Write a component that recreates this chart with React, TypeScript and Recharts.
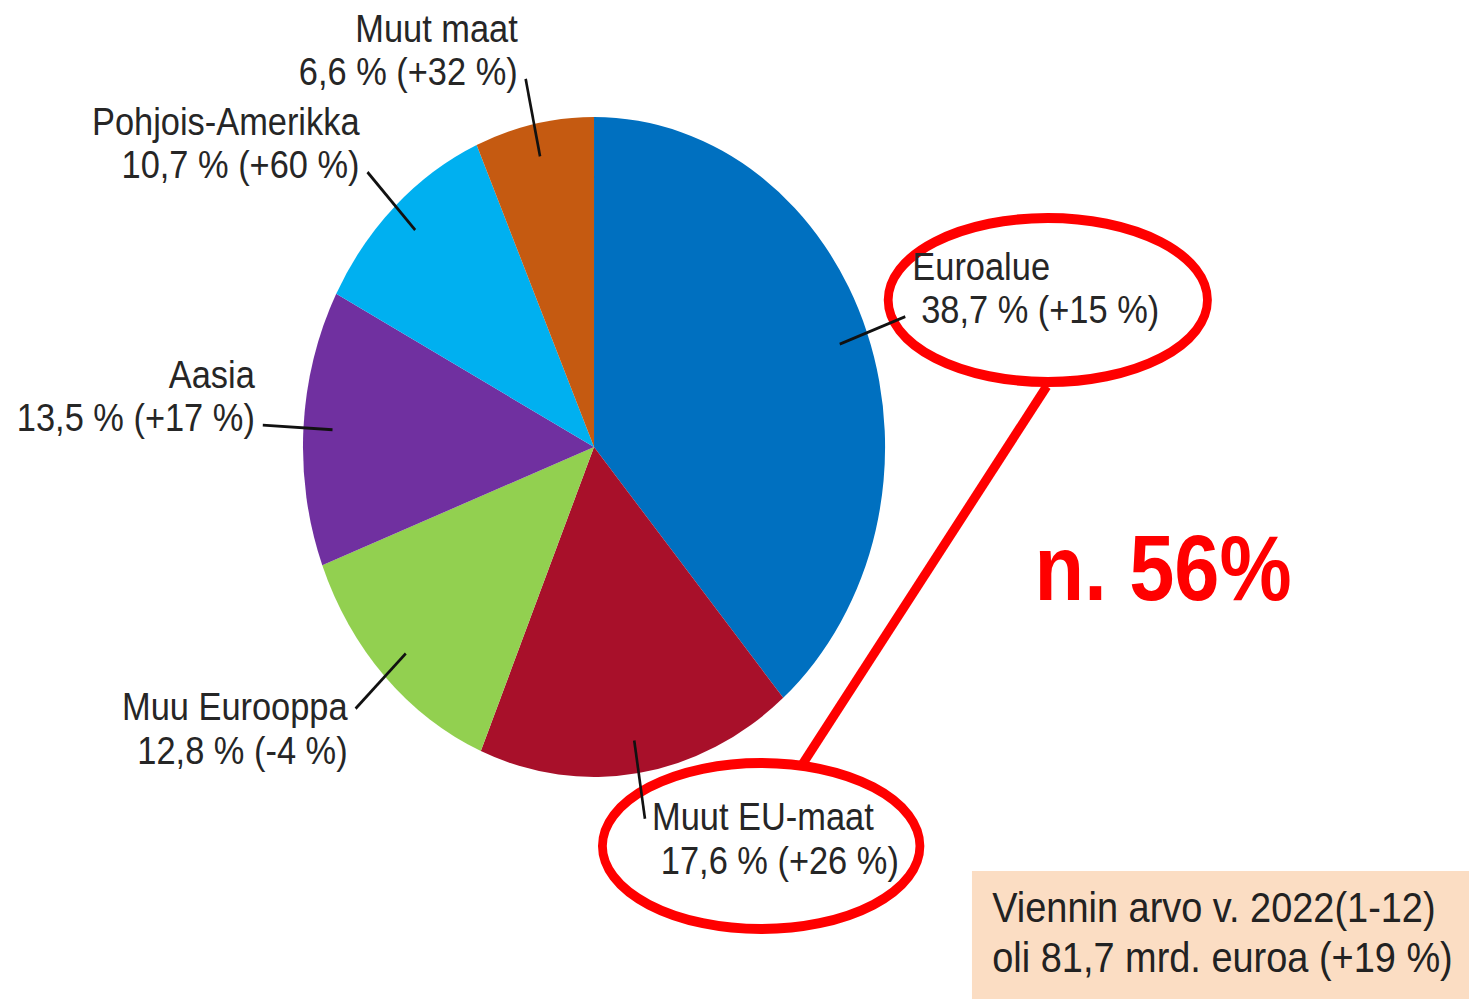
import React from 'react';
import { PieChart, Pie, Cell, Customized } from 'recharts';

const regions = ['Euroalue', 'Muut EU-maat', 'Muu Eurooppa', 'Aasia', 'Pohjois-Amerikka', 'Muut maat'];
const shares = [38.7, 17.6, 12.8, 13.5, 10.7, 6.6];
const changes = [15, 26, -4, 17, 60, 32];
const colors = ['#0070C0', '#A8102A', '#92D050', '#7030A0', '#00B0F0', '#C55A11'];

const infoLines = ['Viennin arvo v. 2022(1-12)', 'oli 81,7 mrd. euroa (+19 %)'];
const highlight = 'n. 56%';

// the source picture is squeezed horizontally, so draw wide and squeeze it the same way
const SX = 0.882;
const W = 1666;
const H = 999;
const RAD = Math.PI / 180;

const data = regions.map((name, i) => ({ name, share: shares[i], change: changes[i] }));

const fmt = (v: number) => v.toFixed(1).replace('.', ',');
const fmtChange = (v: number) => `(${v >= 0 ? '+' : ''}${v} %)`;

function SliceLabel(props: any) {
  const { cx, cy, midAngle, outerRadius, payload } = props;
  const cos = Math.cos(-midAngle * RAD);
  const sin = Math.sin(-midAngle * RAD);
  const x1 = cx + outerRadius * 0.9 * cos;
  const y1 = cy + outerRadius * 0.9 * sin;
  const x2 = cx + outerRadius * 1.14 * cos;
  const y2 = cy + outerRadius * 1.14 * sin;
  const right = cos > 0;
  const below = y2 > cy;
  const tx = right ? x2 + 8 : x2 - 9;
  const base1 = below ? y2 + 11 : y2 + 6 - 43;
  const base2 = below ? base1 + 44 : y2 + 6;
  const anchor = right ? 'start' : 'end';
  const p = payload ?? props;
  return (
    <g>
      <line x1={x1} y1={y1} x2={x2} y2={y2} stroke="#111" strokeWidth={3} />
      <text x={tx} y={base1} textAnchor={anchor} fontSize={39} fill="#262626" fontFamily="'Liberation Sans', Arial, sans-serif">
        {p.name}
      </text>
      <text x={right ? tx + 10 : tx} y={base2} textAnchor={anchor} fontSize={39} fill="#262626" fontFamily="'Liberation Sans', Arial, sans-serif">
        {`${fmt(p.share)} % ${fmtChange(p.change)}`}
      </text>
    </g>
  );
}

function Annotations() {
  return (
    <g>
      <rect x={1102} y={871} width={W - 1102} height={H - 871} fill="#FBDDC3" />
      {infoLines.map((t, i) => (
        <text key={t} x={1125} y={922 + i * 50} fontSize={43} fill="#222" fontFamily="'Liberation Sans', Arial, sans-serif">
          {t}
        </text>
      ))}
      <ellipse cx={1188} cy={300} rx={181} ry={82} fill="none" stroke="#FF0000" strokeWidth={10} />
      <ellipse cx={863} cy={846} rx={180} ry={83} fill="none" stroke="#FF0000" strokeWidth={10} />
      <line x1={1187} y1={386} x2={910} y2={764} stroke="#FF0000" strokeWidth={10} />
      <text x={1173} y={600} fontSize={92} fontWeight="bold" fill="#FF0000" fontFamily="'Liberation Sans', Arial, sans-serif">
        {highlight}
      </text>
    </g>
  );
}

export default function App() {
  return (
    <div style={{ position: 'absolute', left: 0, top: 0, width: 1469, height: H, overflow: 'hidden', background: '#fff' }}>
      <div style={{ width: W, height: H, transform: `scaleX(${SX})`, transformOrigin: '0 0' }}>
        <PieChart width={W} height={H} margin={{ top: 0, right: 0, bottom: 0, left: 0 }}>
          <Pie
            data={data}
            dataKey="share"
            nameKey="name"
            cx={673.5}
            cy={447}
            outerRadius={330}
            startAngle={90}
            endAngle={-270}
            stroke="none"
            label={(props: any) => <SliceLabel {...props} />}
            labelLine={false}
            isAnimationActive={false}
          >
            {data.map((d, i) => (
              <Cell key={d.name} fill={colors[i]} />
            ))}
          </Pie>
          <Customized component={<Annotations />} />
        </PieChart>
      </div>
    </div>
  );
}
